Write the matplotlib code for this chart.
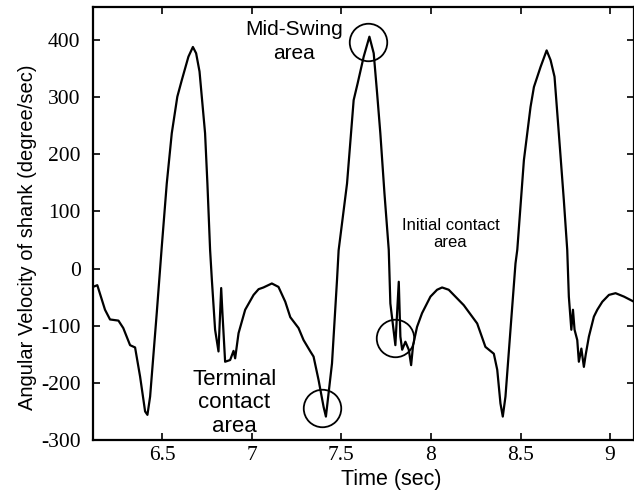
import matplotlib
matplotlib.use('Agg')
import matplotlib.pyplot as plt

plt.rcParams['axes.unicode_minus'] = False

# Data
time = [6.112, 6.136, 6.179, 6.207, 6.254, 6.281, 6.319, 6.347, 6.375, 6.403,
        6.416, 6.431, 6.468, 6.496, 6.524, 6.552, 6.583, 6.608, 6.645, 6.670,
        6.688, 6.707, 6.738, 6.751, 6.766, 6.776, 6.794, 6.813, 6.828, 6.835,
        6.850, 6.878, 6.897, 6.906, 6.925, 6.962, 7.009, 7.037, 7.064, 7.111,
        7.148, 7.186, 7.214, 7.260, 7.288, 7.326, 7.344, 7.372, 7.400, 7.413,
        7.447, 7.475, 7.484, 7.531, 7.568, 7.590, 7.624, 7.656, 7.680, 7.699,
        7.717, 7.740, 7.764, 7.773, 7.801, 7.820, 7.829, 7.839, 7.857, 7.876,
        7.889, 7.900, 7.922, 7.950, 7.997, 8.034, 8.062, 8.099, 8.183, 8.258,
        8.304, 8.351, 8.370, 8.388, 8.401, 8.416, 8.444, 8.472, 8.482, 8.519,
        8.556, 8.575, 8.612, 8.646, 8.668, 8.690, 8.714, 8.742, 8.761, 8.770,
        8.784, 8.793, 8.802, 8.817, 8.826, 8.840, 8.854, 8.864, 8.882, 8.910,
        8.929, 8.957, 8.994, 9.031, 9.078, 9.134]
velocity = [-32, -29, -72, -89, -91, -104, -134, -138, -189, -250,
            -256, -224, -78, 38, 149, 237, 301, 330, 371, 388,
            377, 345, 237, 149, 33, -20, -107, -145, -34, -78,
            -163, -160, -144, -157, -113, -72, -46, -36, -33, -26,
            -32, -58, -85, -104, -125, -145, -154, -195, -242, -259,
            -166, -20, 32, 149, 295, 324, 371, 406, 377, 307,
            237, 132, 33, -61, -134, -23, -119, -142, -128, -142,
            -169, -134, -102, -78, -49, -37, -33, -37, -64, -96,
            -137, -149, -177, -236, -259, -224, -107, 9, 33, 190,
            283, 318, 353, 382, 365, 336, 237, 120, 33, -49,
            -107, -72, -107, -125, -163, -140, -172, -151, -119, -84,
            -72, -58, -46, -43, -49, -58]

# Highlighted gait events: (time, velocity)
circle_t = [7.648, 7.391, 7.801]
circle_v = [397, -244, -122]

fig = plt.figure(figsize=(6.34, 4.92), dpi=100)
ax = fig.add_axes([0.1467, 0.1057, 0.8533, 0.8801])

ax.plot(time, velocity, color='black', linewidth=1.6)
ax.plot(circle_t, circle_v, linestyle='none', marker='o', markersize=27,
        markerfacecolor='none', markeredgecolor='black', markeredgewidth=1.3)

ax.text(7.236, 398, 'Mid-Swing\narea', ha='center', va='center',
        family='Liberation Sans', fontsize=15, linespacing=1.3)
ax.text(8.109, 60, 'Initial contact\narea', ha='center', va='center',
        family='Liberation Sans', fontsize=12, linespacing=1.15)
ax.text(6.901, -235, 'Terminal\ncontact\narea', ha='center', va='center',
        family='Liberation Sans', fontsize=16, linespacing=1.15)

ax.set_xlim(6.112, 9.134)
ax.set_ylim(-300, 458)
ax.set_xticks([6.5, 7, 7.5, 8, 8.5, 9])
ax.set_xticklabels(['6.5', '7', '7.5', '8', '8.5', '9'])
ax.set_yticks([-300, -200, -100, 0, 100, 200, 300, 400])

ax.tick_params(direction='in', top=True, right=True, length=5, width=1.2,
               labelsize=15.5)
ax.tick_params(axis='y', pad=9)
ax.tick_params(axis='x', pad=4)
for lab in ax.get_xticklabels() + ax.get_yticklabels():
    lab.set_family('Liberation Serif')
for s in ax.spines.values():
    s.set_linewidth(1.6)

ax.set_xlabel('Time (sec)', family='Liberation Sans', fontsize=15.5)
ax.set_ylabel('Angular Velocity of shank (degree/sec)', family='Liberation Sans', fontsize=14.5)
ax.xaxis.set_label_coords(0.551, -0.067)
ax.yaxis.set_label_coords(-0.1035, 0.469)

plt.savefig('out.png', dpi=100)
